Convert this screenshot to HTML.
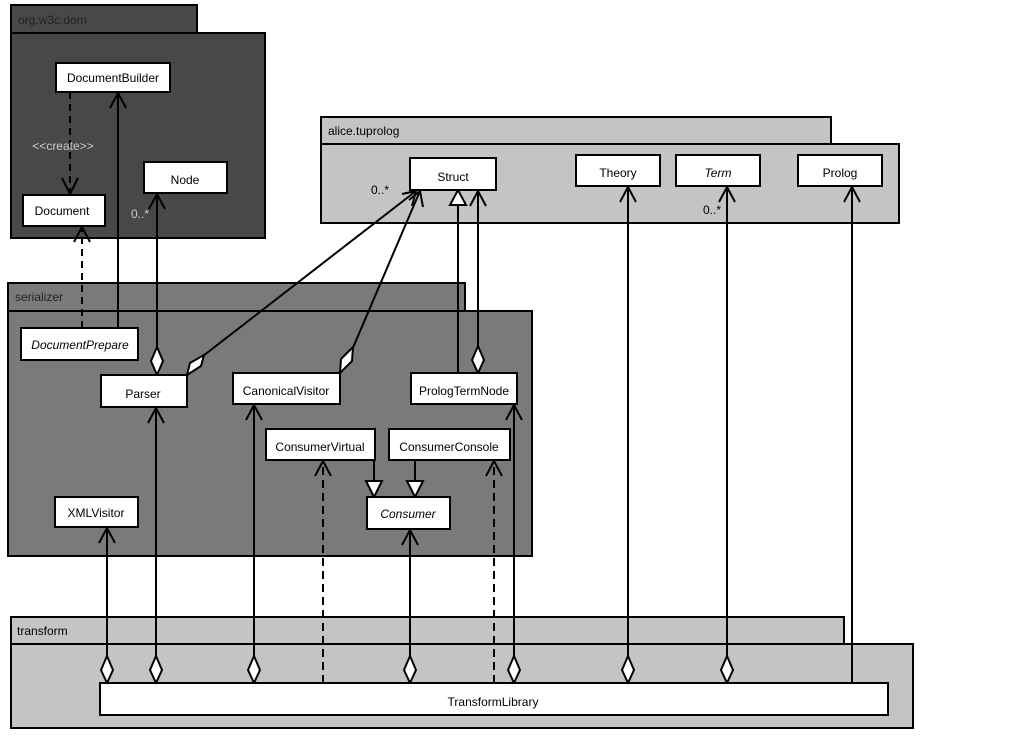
<!DOCTYPE html>
<html><head><meta charset="utf-8"><style>
html,body{margin:0;padding:0;background:#fff;}
svg text{font-family:"Liberation Sans",sans-serif;font-size:12px;fill:#000;}
</style></head><body>
<svg width="1018" height="736" viewBox="0 0 1018 736" xmlns="http://www.w3.org/2000/svg">
<g stroke="#000" stroke-width="2">
<!-- packages -->
<rect x="11" y="5" width="186" height="28" fill="#484848"/>
<rect x="11" y="33" width="254" height="205" fill="#484848"/>
<rect x="321" y="117" width="510" height="27" fill="#c4c4c4"/>
<rect x="321" y="144" width="578" height="79" fill="#c4c4c4"/>
<rect x="8" y="283" width="457" height="28" fill="#7a7a7a"/>
<rect x="8" y="311" width="524" height="245" fill="#7a7a7a"/>
<rect x="11" y="617" width="833" height="27" fill="#c4c4c4"/>
<rect x="11" y="644" width="902" height="84" fill="#c4c4c4"/>
</g>
<g font-size="12">
<text x="18" y="24" style="fill:#222">org.w3c.dom</text>
<text x="328" y="135">alice.tuprolog</text>
<text x="15" y="301" style="fill:#222">serializer</text>
<text x="17" y="635">transform</text>
</g>
<!-- connectors -->
<g stroke="#000" stroke-width="2" fill="none">
<line x1="70" y1="92" x2="70" y2="195" stroke-dasharray="7,5"/>
<polyline points="62,178 70,194 78,178"/>
<line x1="118" y1="328" x2="118" y2="93"/>
<polyline points="110,108 118,93 126,108"/>
<line x1="82" y1="328" x2="82" y2="227" stroke-dasharray="7,5"/>
<polyline points="74,242 82,227 90,242"/>
<line x1="157" y1="347" x2="157" y2="194"/>
<polyline points="149,209 157,194 165,209"/>
<line x1="203" y1="356" x2="416" y2="191"/>
<polyline points="402,194 416,191 412,206"/>
<line x1="352" y1="350" x2="420" y2="191"/>
<polyline points="409,200 420,191 423,207"/>
<line x1="458" y1="373" x2="458" y2="205"/>
<line x1="478" y1="346" x2="478" y2="191"/>
<polyline points="470,206 478,191 486,206"/>
<line x1="374" y1="460" x2="374" y2="481"/>
<line x1="415" y1="460" x2="415" y2="481"/>
<!-- transform links -->
<line x1="107" y1="656" x2="107" y2="528"/><polyline points="99,543 107,528 115,543"/>
<line x1="156" y1="656" x2="156" y2="408"/><polyline points="148,423 156,408 164,423"/>
<line x1="254" y1="656" x2="254" y2="405"/><polyline points="246,420 254,405 262,420"/>
<line x1="323" y1="683" x2="323" y2="461" stroke-dasharray="8,5"/><polyline points="315,476 323,461 331,476"/>
<line x1="410" y1="656" x2="410" y2="530"/><polyline points="402,545 410,530 418,545"/>
<line x1="494" y1="683" x2="494" y2="461" stroke-dasharray="8,5"/><polyline points="486,476 494,461 502,476"/>
<line x1="514" y1="656" x2="514" y2="405"/><polyline points="506,420 514,405 522,420"/>
<line x1="628" y1="656" x2="628" y2="187"/><polyline points="620,202 628,187 636,202"/>
<line x1="727" y1="656" x2="727" y2="187"/><polyline points="719,202 727,187 735,202"/>
<line x1="852" y1="683" x2="852" y2="187"/><polyline points="844,202 852,187 860,202"/>
</g>
<g stroke="#000" stroke-width="2" fill="#fff">
<polygon points="157,347 163,361 157,375 151,361"/>
<polygon points="187,375 190,363 204,355 201,366"/>
<polygon points="340,373 341,359 353,347 352,361"/>
<polygon points="478,346 484,360 478,373 472,360"/>
<polygon points="458,190 466,205 450,205"/>
<polygon points="366,481 382,481 374,497"/>
<polygon points="407,481 423,481 415,497"/>
<polygon points="107,656 113,670 107,683 101,670"/>
<polygon points="156,656 162,670 156,683 150,670"/>
<polygon points="254,656 260,670 254,683 248,670"/>
<polygon points="410,656 416,670 410,683 404,670"/>
<polygon points="514,656 520,670 514,683 508,670"/>
<polygon points="628,656 634,670 628,683 622,670"/>
<polygon points="727,656 733,670 727,683 721,670"/>
<!-- classes -->
<rect x="56" y="63" width="114" height="29"/>
<rect x="23" y="195" width="82" height="31"/>
<rect x="144" y="162" width="83" height="31"/>
<rect x="410" y="158" width="86" height="32"/>
<rect x="576" y="155" width="84" height="31"/>
<rect x="676" y="155" width="84" height="31"/>
<rect x="798" y="155" width="84" height="31"/>
<rect x="21" y="328" width="117" height="32"/>
<rect x="101" y="375" width="86" height="32"/>
<rect x="233" y="373" width="107" height="31"/>
<rect x="411" y="373" width="106" height="31"/>
<rect x="266" y="429" width="109" height="31"/>
<rect x="389" y="429" width="121" height="31"/>
<rect x="367" y="497" width="83" height="32"/>
<rect x="55" y="497" width="83" height="30"/>
<rect x="100" y="683" width="788" height="32"/>
</g>
<g text-anchor="middle">
<text x="113" y="82">DocumentBuilder</text>
<text x="62" y="215">Document</text>
<text x="185" y="184">Node</text>
<text x="453" y="181">Struct</text>
<text x="618" y="177">Theory</text>
<text x="718" y="177" font-style="italic">Term</text>
<text x="840" y="177">Prolog</text>
<text x="80" y="349" font-style="italic">DocumentPrepare</text>
<text x="143" y="398">Parser</text>
<text x="286" y="395">CanonicalVisitor</text>
<text x="464" y="395">PrologTermNode</text>
<text x="320" y="451">ConsumerVirtual</text>
<text x="449" y="451">ConsumerConsole</text>
<text x="408" y="518" font-style="italic">Consumer</text>
<text x="96" y="517">XMLVisitor</text>
<text x="493" y="706">TransformLibrary</text>
<text x="63" y="150" font-size="10" style="fill:#ccc">&lt;&lt;create&gt;&gt;</text>
<text x="380" y="194" font-size="11">0..*</text>
<text x="712" y="214" font-size="11">0..*</text>
<text x="140" y="218" font-size="11" style="fill:#ccc">0..*</text>
</g>
</svg>
</body></html>
